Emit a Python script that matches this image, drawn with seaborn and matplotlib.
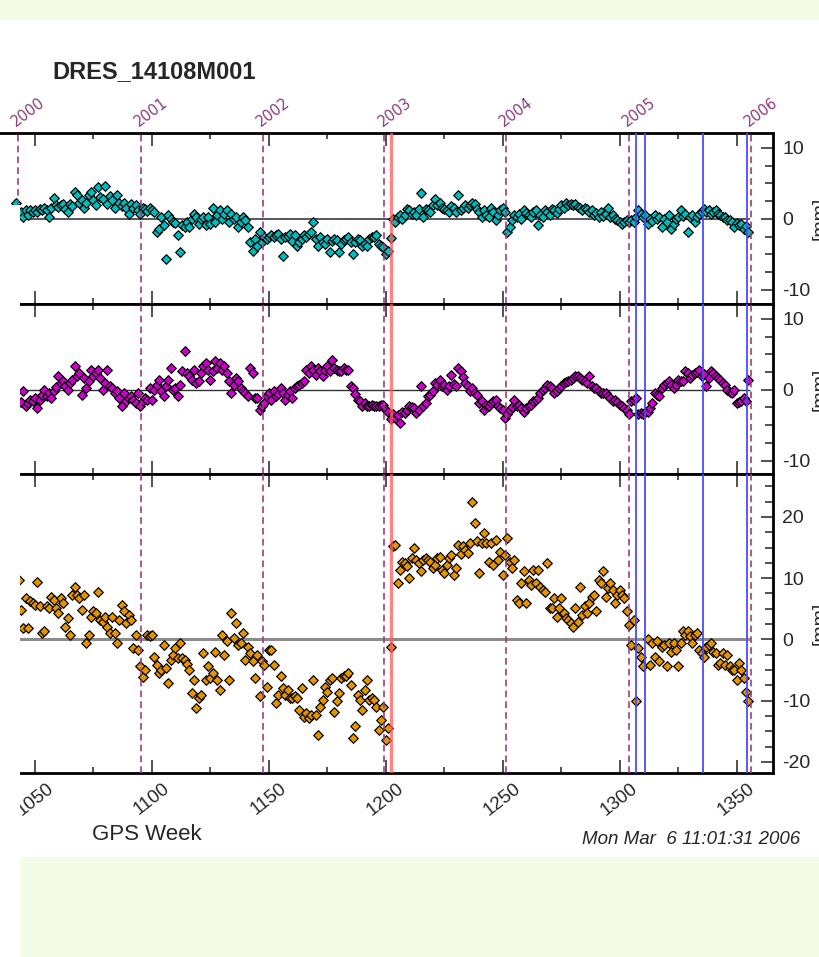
import numpy as np
import pandas as pd
import matplotlib
matplotlib.use("Agg")
import matplotlib.pyplot as plt
import matplotlib.transforms as mtransforms
from matplotlib.patches import Rectangle
from matplotlib.ticker import MultipleLocator
import seaborn as sns

nan = float("nan")

# ---------------- data ----------------
FIRST_WEEK = 1042

north = [
    2.3, 0.8,
    1.0, 0.2, 1.2, 0.5, 1.3, 1.0,
    1.2, 1.0, 1.4, 1.2, 1.5, 1.3, 0.3, 1.6, 3.0, 1.9,
    1.7, 1.9, 2.1, 1.4, 0.9, 2.1, 1.8, 3.8, 3.4, 2.3,
    2.6, 1.6, 2.3, 3.3, 3.8, 2.6, 1.9, 4.5, 3.1, 2.8,
    4.7, 2.1, 3.2, 2.6, 1.6, 3.3, 2.3, 1.8, 2.3, 1.6,
    0.7, 2.1, 1.6, 1.9, 1.2, 0.7, 1.6, 1.4, 1.1, 1.6,
    1.2, 0.9, -1.9, -1.4, 0.2, -0.8, -5.6, 0.5, 0.0, -0.5,
    -0.6, -2.3, -4.7, -0.9, -1.2, -0.4, -1.2, 0.0, 0.7, 0.2,
    -0.7, 0.0, 0.2, -0.9, 0.3, -0.7, 1.6, -0.5, 0.6, 1.2,
    0.0, 0.7, 1.2, -0.5, 0.7, 0.0, 0.2, -1.2, -0.5, 0.2,
    -0.2, -1.2, -3.3, -4.5, -2.8, -3.8, -1.9, -3.3, -2.6, -2.8,
    -2.6, -2.3, -2.5, -2.3, -2.1, -2.8, -5.2, -2.6, -2.4, -2.1,
    -3.1, -2.3, -3.8, -3.3, -2.8, -2.3, -2.5, -2.1, -1.8, -0.5,
    -2.8, -3.8, -2.6, -3.3, -3.5, -2.8, -4.7, -3.1, -2.8, -3.0,
    -4.7, -3.5, -3.0, -2.8, -2.6, -3.3, -4.9, -3.3, -2.8, -3.0,
    -3.8, -3.5, -3.8, -2.8, -2.6, -2.6, -2.3, -3.5, -3.8, -4.0,
    -4.9, -4.5, -2.7, 0.0, -0.5, 0.2, 0.5, 0.0, 0.6, 1.4,
    1.2, 0.7, 1.0, 0.6, 1.4, 3.7, 0.2, 1.4, 1.2, 1.0,
    1.9, 2.8, 2.0, 2.3, 1.6, 1.4, 1.2, 0.9, 1.8, 1.6,
    1.0, 3.3, 1.2, 1.5, 1.9, 1.6, 2.0, 2.3, 2.1, 1.4,
    1.0, 0.2, 1.2, 0.6, 0.2, 1.6, 0.9, -0.2, 0.5, 1.2,
    1.6, 1.0, -1.9, -1.2, -0.2, 0.5, 0.3, 0.7, 0.0, 1.2,
    0.8, 0.5, 0.2, 0.9, 1.2, -0.9, 0.5, 0.2, 1.2, 0.9,
    0.6, 1.4, 1.2, 0.8, 1.4, 1.9, 1.6, 2.3, 2.0, 2.1,
    1.9, 2.1, 1.7, 1.6, 1.3, 1.6, 1.4, 0.9, 1.2, 0.5,
    0.8, 0.2, 0.9, 0.4, 0.7, 1.6, 0.2, 0.5, 0.0, -0.2,
    -0.4, -0.7, -0.5, -0.2, -0.5, -0.2, -0.5, 0.3, 1.2, 0.7,
    0.2, 0.5, -0.7, 0.0, -0.3, 0.5, 0.0, 0.3, -1.2, 0.0,
    -0.4, 0.5, -1.4, -0.7, 0.0, 0.2, 1.2, 0.4, 0.7, -1.9,
    0.2, 0.6, -0.5, 0.3, 0.7, 0.9, 1.4, 1.0, 1.2, 0.7,
    0.9, 1.2, 0.7, 0.5, 0.3, 0.2, -0.2, -0.1, -0.5, -1.2,
    -0.6, -0.9, -0.7, -1.4, -1.0, -1.9,
]

east = [
    nan, -1.7,
    -1.7, -0.2, -2.3, -1.9, -1.4, -1.6,
    -1.2, -2.6, -1.4, -0.8, 0.0, -0.9, -0.5, -1.2, -0.2, 0.4,
    1.9, 0.9, 1.2, 0.5, 0.0, 1.0, 1.4, 3.3, 1.9, 2.3,
    -0.7, 1.6, 0.2, 1.2, 2.8, 2.0, 2.3, 2.8, 1.6, 0.0,
    0.9, 2.8, 0.5, 0.2, -0.5, -0.2, -1.2, -2.3, -0.5, -1.6,
    -1.2, -0.9, -1.4, -1.9, -0.5, -2.3, -1.6, -1.2, -1.4, 0.2,
    -1.4, 0.0, 0.7, 1.4, -0.2, -0.9, 0.5, 1.4, 3.1, 0.0,
    0.2, -0.9, 0.7, 2.6, 5.4, 2.3, 1.9, 1.4, 2.8, 0.9,
    1.2, 2.3, 3.3, 3.8, 2.8, 1.4, 2.6, 4.0, 3.1, 3.8,
    2.8, 3.3, 2.3, 1.2, -0.5, 0.7, 1.6, 1.2, 0.2, -0.2,
    -0.5, -0.9, 3.1, 2.3, -1.2, -1.2, -2.8, -2.3, -1.9, -0.9,
    -0.5, -1.4, -0.2, -0.9, -0.6, 0.2, -0.5, -1.4, -0.8, -0.2,
    -1.2, 0.2, 0.5, 0.7, 0.9, 1.2, 2.8, 2.3, 3.3, 2.8,
    2.1, 3.1, 2.6, 1.9, 2.8, 3.3, 2.6, 4.2, 3.1, 2.8,
    2.6, 2.6, 3.1, 2.8, 2.8, 0.5, 0.2, -0.6, -1.4, -1.6,
    -2.3, -1.9, -2.3, -2.3, -2.1, -2.3, -2.3, -2.3, -2.1, -2.1,
    -2.8, -3.2, -4.2, -3.5, -4.0, -3.6, -4.7, -3.1, -3.3, -2.8,
    -2.3, -2.5, -2.6, -3.3, -2.8, 0.5, -2.3, -1.9, -0.9, -0.7,
    -0.2, 0.9, 0.6, 1.4, 0.5, 0.7, 0.0, 0.5, 2.1, 0.8,
    0.5, 3.1, 2.6, 1.8, 0.9, 0.5, -0.2, 0.2, -0.4, -0.7,
    -1.9, -1.6, -2.8, -2.2, -2.3, -1.9, -1.6, -1.4, -2.3, -2.6,
    -2.8, -4.0, -3.5, -2.8, -2.4, -1.4, -2.3, -2.1, -2.6, -3.1,
    -2.6, -2.3, -2.1, -1.6, -1.4, -1.2, -0.5, -0.1, 0.2, 0.7,
    0.5, 0.3, -0.5, -0.2, 0.2, 0.5, 0.9, 1.1, 1.2, 1.4,
    1.7, 1.9, 1.9, 1.6, 1.4, 1.2, 0.9, 1.9, 0.5, 0.3,
    0.2, -0.2, -0.4, -0.5, -0.5, -0.9, -1.2, -1.6, -1.4, -1.8,
    -2.1, -2.3, -2.6, -2.8, -3.5, -1.6, -1.4, -1.2, -3.5, -3.3,
    -3.5, -3.2, -3.1, -2.6, -1.9, -0.5, -0.7, -0.9, 0.2, 0.7,
    0.9, 1.2, 0.6, 0.2, 0.7, 1.4, 1.2, 1.2, 2.6, 2.3,
    1.6, 2.1, 2.3, 2.5, 2.8, 1.9, 2.2, 0.5, 1.6, 2.6,
    2.3, 2.0, 1.6, 1.4, 1.0, 0.7, 0.0, -0.3, -0.5, 0.0,
    -1.9, -1.7, -1.6, -1.2, -1.6, 1.4,
]

up = [
    nan, 9.7,
    4.8, 1.8, 6.7, 1.8, 6.2, 5.9,
    5.7, 9.4, 5.4, 1.0, 1.3, 5.4, 5.1, 7.0, 6.5, 5.1,
    4.3, 6.7, 6.0, 2.1, 3.5, 0.8, 7.3, 8.6, 7.3, 6.7,
    4.8, 7.3, -0.6, 0.8, 3.7, 4.6, 4.3, 7.8, 3.2, 2.9,
    3.7, 2.1, 1.0, 3.7, 1.0, -0.6, 3.2, 5.6, 4.6, 2.7,
    4.0, 3.2, -1.4, 0.8, -1.7, -4.4, -6.1, -5.0, 0.8, 0.5,
    0.8, -2.8, -4.2, -5.5, -5.0, -0.9, -4.7, -7.1, -3.3, -2.5,
    -1.4, -3.1, -0.6, -3.1, -3.3, -4.0, -5.0, -8.8, -6.6, -11.2,
    -9.6, -9.0, -2.2, -6.6, -4.4, -6.3, -5.5, -2.0, -6.6, -8.2,
    0.8, -2.5, -0.3, -6.6, 4.3, 0.2, 2.7, -0.9, -0.6, 1.0,
    -3.3, -1.2, -2.2, -3.6, -6.3, -2.5, -9.3, -3.6, -4.2, -7.7,
    -1.7, -1.7, -4.2, -10.4, -9.1, -6.0, -8.0, -9.1, -8.2, -9.6,
    -9.6, -9.3, -9.6, -11.5, -8.0, -12.6, -12.0, -12.9, -12.3, -6.6,
    -12.3, -15.6, -11.0, -9.9, -7.7, -8.5, -6.6, -6.3, -11.8, -10.1,
    -8.8, -6.3, -6.0, -6.0, -5.5, -7.4, -16.1, -14.2, -9.1, -9.9,
    -11.5, -8.2, -6.6, -9.9, -9.6, -9.9, -11.0, -14.8, -13.1, -11.0,
    -16.4, -14.5, -1.2, 15.2, 15.4, 9.2, 11.4, 12.7, 12.4, 12.0,
    10.0, 13.3, 14.9, 13.0, 12.4, 11.1, 13.0, 13.3, 13.0, 12.7,
    11.6, 12.2, 13.3, 13.5, 11.4, 10.8, 12.2, 13.3, 13.8, 10.5,
    11.6, 15.4, 14.0, 15.2, 14.6, 14.1, 15.7, 22.5, 19.0, 16.0,
    10.8, 15.7, 17.3, 15.7, 12.7, 15.7, 12.2, 16.3, 13.0, 14.3,
    10.5, 13.8, 16.5, 12.7, 11.6, 13.0, 6.5, 5.9, 9.2, 11.1,
    5.9, 9.7, 8.9, 11.4, 9.2, 11.4, 8.6, 8.1, 7.8, 12.4,
    5.1, 5.1, 6.7, 3.7, 5.1, 6.7, 4.3, 3.5, 3.2, 2.7,
    2.1, 5.1, 2.9, 8.6, 4.0, 5.4, 4.3, 5.9, 7.0, 7.3,
    4.6, 9.7, 9.2, 11.1, 7.0, 8.4, 9.2, 8.1, 5.9, 7.3,
    8.1, 7.3, 6.7, 4.6, 2.4, -0.9, 3.2, -10.1, -1.4, -2.8,
    -4.4, nan, 0.0, -4.2, -0.6, -2.8, -0.3, -3.6, -1.2, -0.9,
    -4.4, -0.6, -2.0, -0.6, -1.7, -4.4, -0.6, 1.3, 0.8, 1.3,
    0.5, -0.6, 0.8, 1.0, -1.7, -2.2, -2.8, -1.2, -0.9, -0.6,
    -2.0, -2.2, -4.2, -3.9, -2.2, -4.2, -2.5, -4.4, -5.0, -5.0,
    -6.6, -3.9, -5.0, -6.3, -8.5, -10.1,
]

assert len(north) == len(east) == len(up), (len(north), len(east), len(up))
weeks = np.arange(FIRST_WEEK, FIRST_WEEK + len(north))

year_labels = ["2000", "2001", "2002", "2003", "2004", "2005", "2006"]
year_weeks = [1042.857, 1095.143, 1147.286, 1199.429, 1251.571, 1303.857, 1356.0]
red_events = [1202.0]
blue_events = [1307.1, 1310.6, 1335.4, 1354.3]

title = "DRES_14108M001"
xlabel = "GPS Week"
stamp = "Mon Mar  6 11:01:31 2006"
unit = "[mm]"

# ---------------- style ----------------
sns.set_style("ticks")
plt.rcParams["font.family"] = ["Liberation Sans", "DejaVu Sans"]
plt.rcParams["axes.unicode_minus"] = False

W, H = 820, 957
fig = plt.figure(figsize=(W / 100, H / 100), dpi=100)
fig.patch.set_facecolor("white")


def fx(px):
    return px / W


def fy(py):
    return 1 - py / H


XLIM = (1035.04, 1365.4)
RIGHT_PX = 772.7

panels = [
    dict(vals=north, color="#00bcbc", top=133, bot=304, ylim=(-12.0, 12.1),
         zc="#4a4a4a", zlw=1.3),
    dict(vals=east, color="#cc00cc", top=304, bot=474, ylim=(-11.9, 12.1),
         zc="#333333", zlw=1.0),
    dict(vals=up, color="#e39400", top=474, bot=773, ylim=(-21.8, 27.0),
         zc="#8c8c8c", zlw=2.2),
]

axes = []
for i, p in enumerate(panels):
    ax = fig.add_axes([0, fy(p["bot"]), fx(RIGHT_PX), (p["bot"] - p["top"]) / H])
    ax.set_facecolor("white")
    df = pd.DataFrame({"week": weeks, "value": p["vals"]}).dropna()
    sns.scatterplot(data=df, x="week", y="value", marker="D", s=24,
                    color=p["color"], edgecolor="#000000", linewidth=0.85,
                    ax=ax, zorder=2, legend=False)
    ax.hlines(0, 1040, 1355.6, color=p["zc"], lw=p["zlw"], zorder=1)

    for yw in year_weeks:
        ax.axvline(yw, color="#96407f", lw=1.2, ls=(0, (4, 2.5)), zorder=3)
    for rw in red_events:
        ax.axvline(rw, color="#ff5a5a", lw=2.3, alpha=0.75, zorder=3)
    for bw in blue_events:
        ax.axvline(bw, color="#4a4aff", lw=1.3, zorder=3)

    ax.set_xlim(*XLIM)
    ax.set_ylim(*p["ylim"])
    ax.set_xlabel("")
    ax.set_ylabel("")

    ax.spines["left"].set_visible(False)
    for s in ("top", "bottom", "right"):
        ax.spines[s].set_visible(True)
        ax.spines[s].set_linewidth(2.0)
        ax.spines[s].set_color("black")

    ax.xaxis.set_major_locator(MultipleLocator(50))
    ax.xaxis.set_minor_locator(MultipleLocator(25))
    ax.yaxis.set_major_locator(MultipleLocator(10))
    ax.yaxis.set_minor_locator(MultipleLocator(2.5))

    ax.yaxis.tick_right()
    ax.tick_params(axis="y", which="both", direction="in", left=False, right=True,
                   labelleft=False, labelright=True, color="#333333", width=1.2)
    ax.tick_params(axis="y", which="major", length=9, pad=7, labelsize=14)
    ax.tick_params(axis="y", which="minor", length=5.5)

    last = i == len(panels) - 1
    ax.tick_params(axis="x", which="both", direction="in", top=True, bottom=True,
                   labeltop=False, labelbottom=last, color="#333333", width=1.2)
    ax.tick_params(axis="x", which="major", length=9.5, pad=5, labelsize=13.5)
    ax.tick_params(axis="x", which="minor", length=4.5)
    if last:
        plt.setp(ax.get_xticklabels(), rotation=38, ha="center")

    fig.text(fx(812), fy((p["top"] + p["bot"]) / 2), unit, rotation=90,
             ha="left", va="center", fontsize=14)
    axes.append(ax)

# year labels above the top panel
ax0 = axes[0]
trans = mtransforms.blended_transform_factory(ax0.transData, ax0.transAxes)
for lbl, yw in zip(year_labels, year_weeks):
    ax0.annotate(lbl, xy=(yw, 1), xycoords=trans, xytext=(-1.5, 4),
                 textcoords="offset points", rotation=37, rotation_mode="anchor",
                 ha="left", va="baseline", fontsize=10.5, color="#8c3c7c",
                 family="DejaVu Sans", annotation_clip=False)

# texts
fig.text(fx(52), fy(72), title, fontsize=17, fontweight="bold", ha="left", va="center")
fig.text(fx(92), fy(835), xlabel, fontsize=16, ha="left", va="center")
fig.text(fx(800), fy(840), stamp, fontsize=13.5, style="italic", ha="right", va="center")

# page background pieces
fig.add_artist(Rectangle((0, fy(20)), 1, 20 / H, transform=fig.transFigure,
                         facecolor="#f4fce8", edgecolor="none", zorder=5))
fig.add_artist(Rectangle((fx(20), 0), 1 - fx(20), fy(857), transform=fig.transFigure,
                         facecolor="#f4fce8", edgecolor="none", zorder=5))
fig.add_artist(Rectangle((0, 0), fx(20), fy(205), transform=fig.transFigure,
                         facecolor="white", edgecolor="none", zorder=10))

fig.savefig("out.png", dpi=100)
